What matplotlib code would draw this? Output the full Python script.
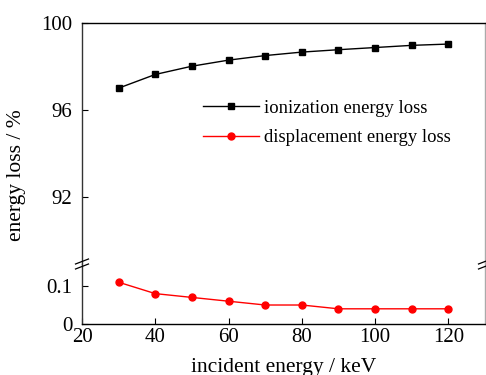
import matplotlib
matplotlib.use('Agg')
import matplotlib.pyplot as plt
from matplotlib.lines import Line2D

plt.rcParams['font.family'] = 'Liberation Serif'
plt.rcParams['mathtext.fontset'] = 'stix'

# data
energy = [30, 40, 50, 60, 70, 80, 90, 100, 110, 120]
ionization = [97.0, 97.63, 98.01, 98.29, 98.5, 98.66, 98.77, 98.87, 98.97, 99.03]
displacement = [0.11, 0.08, 0.07, 0.06, 0.05, 0.05, 0.04, 0.04, 0.04, 0.04]

x_ticks = [20, 40, 60, 80, 100, 120]
top_ticks = [92, 96, 100]
bottom_ticks = [0, 0.1]
bottom_ticklabels = ['0', '0.1']

W, H = 486, 375
fig = plt.figure(figsize=(W / 100, H / 100), dpi=100)

left, right = 82 / W, 485 / W
y_top, y_break, y_bot = 1 - 23 / H, 1 - 264 / H, 1 - 324 / H

ax_top = fig.add_axes([left, y_break, right - left, y_top - y_break])
ax_bot = fig.add_axes([left, y_bot, right - left, y_break - y_bot], sharex=ax_top)

ax_top.plot(energy, ionization, color='black', lw=1.0, marker='s', ms=4.5,
            label='ionization energy loss')
ax_bot.plot(energy, displacement, color='#ff0000', lw=1.0, marker='o', ms=5,
            label='displacement energy loss')

ax_top.set_xlim(20, 130)
ax_top.set_ylim(88.9, 100)
ax_bot.set_ylim(0, 0.158)

ax_top.set_yticks(top_ticks)
ax_bot.set_yticks(bottom_ticks)
ax_bot.set_yticklabels(bottom_ticklabels)
ax_bot.set_xticks(x_ticks)

ax_top.spines['bottom'].set_visible(False)
ax_bot.spines['top'].set_visible(False)
for ax in (ax_top, ax_bot):
    ax.spines['left'].set_color('#333333')
    ax.spines['right'].set_color('#aaaaaa')
    ax.spines['top'].set_color('black')
    ax.spines['bottom'].set_color('black')
    for s in ax.spines.values():
        s.set_linewidth(1.0)
    ax.tick_params(direction='in', length=4, width=0.8, labelsize=15,
                   right=False, top=False)
    ax.tick_params(axis='y', pad=7)
    ax.tick_params(axis='x', pad=3)
ax_top.tick_params(axis='x', bottom=False, labelbottom=False)

# break marks
dx, dy = 6.5 / W, 2.5 / H
for xb in (left, right):
    for yc in (y_break + 2.5 / H, y_break - 2.5 / H):
        fig.add_artist(Line2D([xb - dx, xb + dx], [yc - dy, yc + dy],
                              transform=fig.transFigure, color='black', lw=0.9))

handles = [ax_top.get_lines()[0], ax_bot.get_lines()[0]]
fig.legend(handles=handles, labels=[h.get_label() for h in handles],
           loc='center left', bbox_to_anchor=(203 / W, 1 - 123 / H),
           frameon=False, fontsize=13.4, handlelength=3.0, handletextpad=0.3,
           labelspacing=0.65, borderpad=0, borderaxespad=0)

fig.text(17 / W, 1 - 175 / H, 'energy loss / %', rotation=90, fontsize=15.5,
         ha='center', va='center')
fig.text((left + right) / 2, 1 - 372 / H, 'incident energy / keV', fontsize=15.5,
         ha='center', va='baseline')

fig.savefig('out.png', dpi=100)
